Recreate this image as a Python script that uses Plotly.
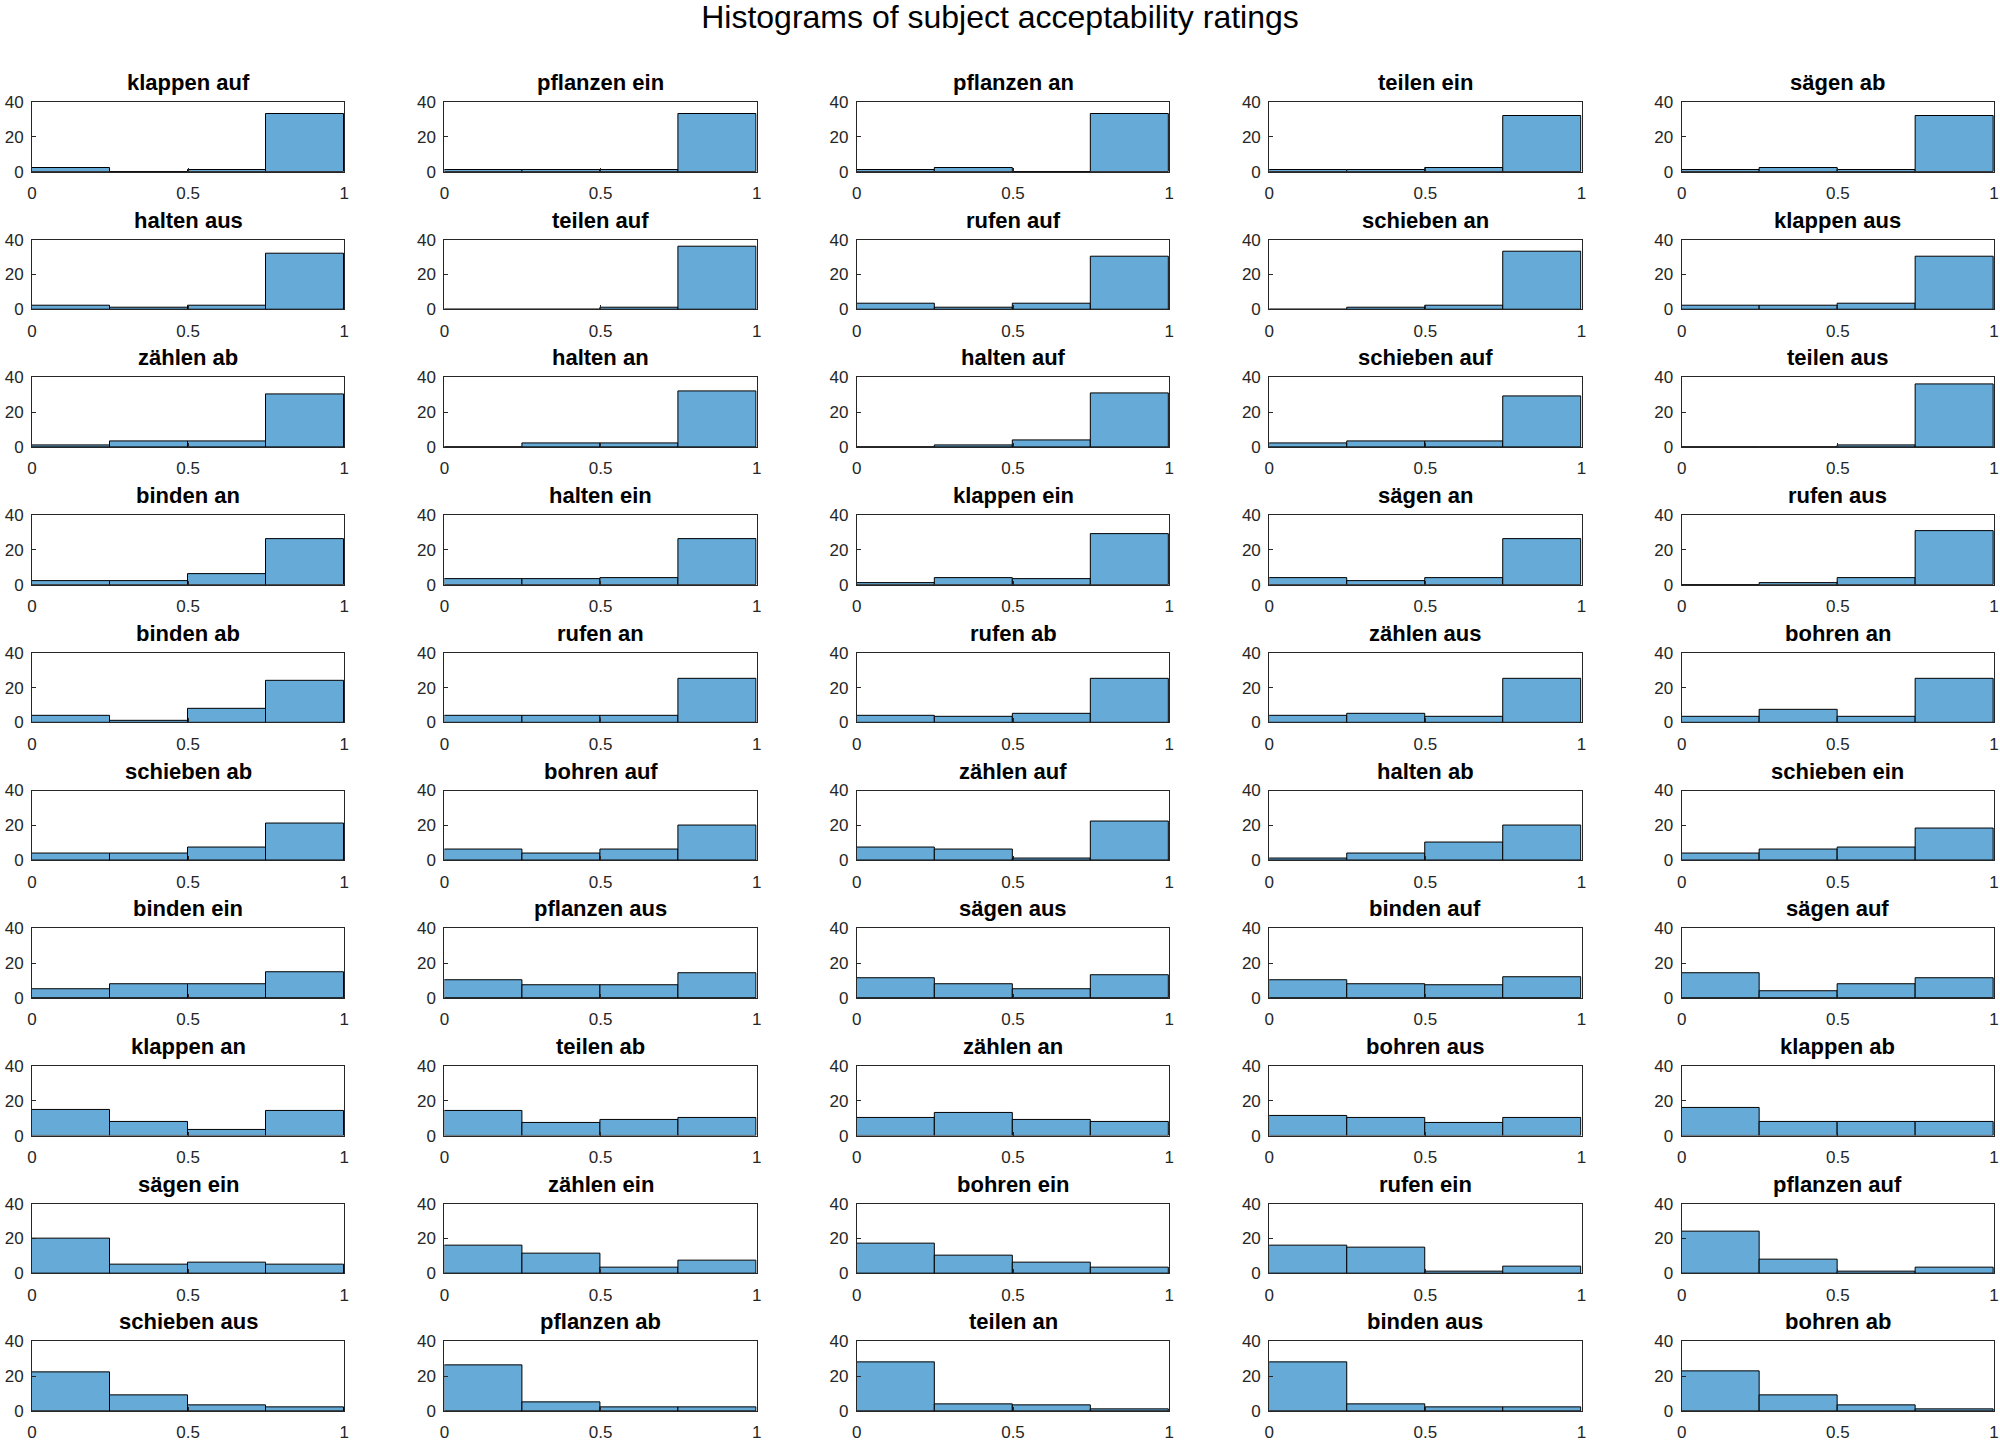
import plotly.graph_objects as go
from plotly.subplots import make_subplots

# verb + particle combinations, in panel order (row by row)
titles = [
    "klappen auf", "pflanzen ein", "pflanzen an", "teilen ein", "sägen ab",
    "halten aus", "teilen auf", "rufen auf", "schieben an", "klappen aus",
    "zählen ab", "halten an", "halten auf", "schieben auf", "teilen aus",
    "binden an", "halten ein", "klappen ein", "sägen an", "rufen aus",
    "binden ab", "rufen an", "rufen ab", "zählen aus", "bohren an",
    "schieben ab", "bohren auf", "zählen auf", "halten ab", "schieben ein",
    "binden ein", "pflanzen aus", "sägen aus", "binden auf", "sägen auf",
    "klappen an", "teilen ab", "zählen an", "bohren aus", "klappen ab",
    "sägen ein", "zählen ein", "bohren ein", "rufen ein", "pflanzen auf",
    "schieben aus", "pflanzen ab", "teilen an", "binden aus", "bohren ab",
]

# histogram counts per panel (4 bins over 0..1)
counts = [
    [2, 0, 1, 33], [1, 1, 1, 33], [1, 2, 0, 33], [1, 1, 2, 32], [1, 2, 1, 32],
    [2, 1, 2, 32], [0, 0, 1, 36], [3, 1, 3, 30], [0, 1, 2, 33], [2, 2, 3, 30],
    [1, 3, 3, 30], [0, 2, 2, 32], [0, 1, 4, 31], [2, 3, 3, 29], [0, 0, 1, 36],
    [2, 2, 6, 26], [3, 3, 4, 26], [1, 4, 3, 29], [4, 2, 4, 26], [0, 1, 4, 31],
    [4, 1, 8, 24], [4, 4, 4, 25], [4, 3, 5, 25], [4, 5, 3, 25], [3, 7, 3, 25],
    [4, 4, 7, 21], [6, 4, 6, 20], [7, 6, 1, 22], [1, 4, 10, 20], [4, 6, 7, 18],
    [5, 8, 8, 15], [10, 7, 7, 14], [11, 8, 5, 13], [10, 8, 7, 12], [14, 4, 8, 11],
    [15, 8, 3, 14], [14, 7, 9, 10], [10, 13, 9, 8], [11, 10, 7, 10], [16, 8, 8, 8],
    [20, 5, 6, 5], [16, 11, 3, 7], [17, 10, 6, 3], [16, 15, 1, 4], [24, 8, 1, 3],
    [22, 9, 3, 2], [26, 5, 2, 2], [28, 4, 3, 1], [28, 4, 2, 2], [23, 9, 3, 1],
]

bin_edges = [0, 0.25, 0.5, 0.75, 1]
x_ticks = [0, 0.5, 1]
x_ticktext = ["0", "0.5", "1"]
y_ticks = [0, 20, 40]

NROWS, NCOLS = 10, 5
FONT = "Liberation Sans, Arial, Helvetica, sans-serif"
AXCOL = "#262626"
BARCOL = "rgb(102,170,215)"

centers = [(a + b) / 2 for a, b in zip(bin_edges[:-1], bin_edges[1:])]
widths = [b - a for a, b in zip(bin_edges[:-1], bin_edges[1:])]

fig = make_subplots(
    rows=NROWS, cols=NCOLS,
    subplot_titles=titles,
    horizontal_spacing=0.051,
    vertical_spacing=0.052,
)

for i, c in enumerate(counts):
    r = i // NCOLS + 1
    col = i % NCOLS + 1
    fig.add_trace(go.Bar(
        x=centers, y=c, width=widths,
        marker=dict(color=BARCOL, line=dict(color="black", width=1)),
        showlegend=False,
        hovertemplate="%{x}: %{y}<extra>" + titles[i] + "</extra>",
    ), row=r, col=col)

fig.update_xaxes(
    range=[0, 1], tickvals=x_ticks, ticktext=x_ticktext,
    ticks="inside", ticklen=4, tickcolor=AXCOL,
    showline=True, mirror=True, linecolor=AXCOL, linewidth=1,
    showgrid=False, zeroline=False, ticklabelstandoff=6, automargin=False,
    tickfont=dict(family=FONT, size=17, color=AXCOL),
)
fig.update_yaxes(
    range=[0, 40], tickvals=y_ticks,
    ticks="inside", ticklen=4, tickcolor=AXCOL,
    showline=True, mirror=True, linecolor=AXCOL, linewidth=1,
    showgrid=False, zeroline=False, ticklabelstandoff=4, automargin=False,
    tickfont=dict(family=FONT, size=17, color=AXCOL),
)

# bold panel titles
for ann in fig.layout.annotations:
    ann.text = "<b>" + ann.text + "</b>"
    ann.font = dict(family=FONT, size=22, color="black")
    ann.yshift = 5

fig.update_layout(
    width=2000, height=1444,
    margin=dict(l=32, r=6, t=102, b=33),
    paper_bgcolor="white", plot_bgcolor="white",
    bargap=0,
    title=dict(
        text="Histograms of subject acceptability ratings",
        font=dict(family=FONT, size=32, color="black"),
        x=0.5, xref="container", xanchor="center",
        y=1 - 6 / 1444, yref="container", yanchor="top",
        pad=dict(t=0, b=0, l=0, r=0),
    ),
)

# drop the default body margin so the figure sits at the page origin
fig.write_html(
    "out.html",
    config={"displayModeBar": False},
    post_script="document.body.style.margin='0';",
)
